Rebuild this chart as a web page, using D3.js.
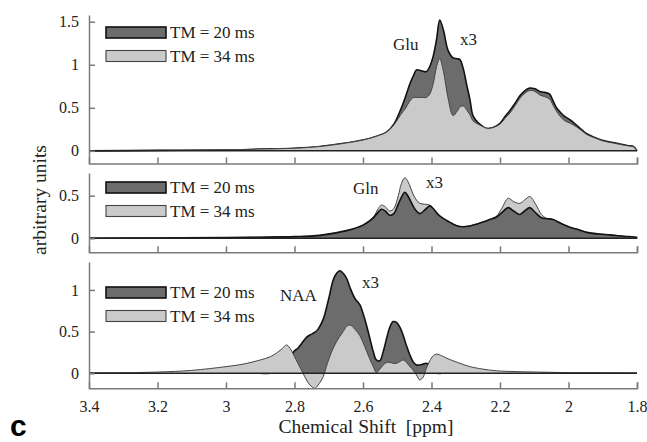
<!DOCTYPE html>
<html>
<head>
<meta charset="utf-8">
<script src="https://cdn.jsdelivr.net/npm/d3@7"></script>
<style>
  body { margin: 0; background: #fff; }
  svg text { font-family: "Liberation Serif", "Times New Roman", serif; fill: #222; }
  .axis path, .axis line { stroke: #7a7a7a; stroke-width: 1.5; }
</style>
</head>
<body>
<svg id="chart" width="647" height="442"></svg>
<script>
// x axis ticks (ppm)
var xTicks = [3.4, 3.2, 3, 2.8, 2.6, 2.4, 2.2, 2, 1.8];
var legendLabels = ['TM = 20 ms', 'TM = 34 ms'];

// --- Glu panel ---
var gluPpm  = [3.4, 3.2, 3.0, 2.9, 2.8, 2.726, 2.65, 2.6, 2.56, 2.53, 2.51, 2.49, 2.475, 2.463, 2.452, 2.444, 2.43, 2.415, 2.405, 2.395, 2.385, 2.376, 2.365, 2.352, 2.337, 2.325, 2.317, 2.307, 2.298, 2.288, 2.279, 2.269, 2.259, 2.245, 2.235, 2.22, 2.2, 2.185, 2.171, 2.155, 2.142, 2.127, 2.113, 2.098, 2.084, 2.07, 2.055, 2.045, 2.035, 2.022, 2.011, 1.995, 1.977, 1.96, 1.947, 1.92, 1.899, 1.875, 1.85, 1.825, 1.811, 1.8];
var gluTm20 = [0, 0.005, 0.01, 0.02, 0.03, 0.05, 0.09, 0.125, 0.17, 0.22, 0.31, 0.48, 0.64, 0.78, 0.88, 0.94, 0.93, 0.92, 0.98, 1.1, 1.3, 1.52, 1.4, 1.17, 1.08, 1.07, 1.06, 0.95, 0.78, 0.6, 0.41, 0.35, 0.31, 0.27, 0.26, 0.27, 0.32, 0.4, 0.47, 0.56, 0.64, 0.7, 0.73, 0.72, 0.69, 0.68, 0.66, 0.58, 0.5, 0.44, 0.4, 0.36, 0.3, 0.24, 0.2, 0.15, 0.12, 0.1, 0.08, 0.06, 0.05, 0];
var gluTm34 = [0, 0.005, 0.01, 0.02, 0.03, 0.05, 0.09, 0.125, 0.17, 0.22, 0.3, 0.42, 0.5, 0.58, 0.62, 0.62, 0.62, 0.62, 0.66, 0.78, 0.98, 1.07, 0.92, 0.62, 0.41, 0.46, 0.51, 0.52, 0.48, 0.42, 0.35, 0.32, 0.3, 0.27, 0.26, 0.27, 0.31, 0.38, 0.44, 0.53, 0.61, 0.67, 0.7, 0.69, 0.65, 0.63, 0.6, 0.53, 0.46, 0.39, 0.35, 0.32, 0.28, 0.23, 0.19, 0.145, 0.115, 0.095, 0.075, 0.057, 0.048, 0];

// --- Gln panel ---
var glnPpm  = [3.4, 3.2, 3.0, 2.9, 2.8, 2.726, 2.648, 2.6, 2.57, 2.555, 2.546, 2.535, 2.522, 2.51, 2.497, 2.488, 2.478, 2.468, 2.454, 2.444, 2.434, 2.42, 2.405, 2.395, 2.381, 2.365, 2.347, 2.328, 2.308, 2.288, 2.269, 2.25, 2.23, 2.21, 2.195, 2.176, 2.16, 2.142, 2.128, 2.113, 2.096, 2.079, 2.062, 2.045, 2.02, 1.996, 1.97, 1.947, 1.91, 1.879, 1.84, 1.802, 1.8];
var glnTm20 = [0, 0.004, 0.008, 0.013, 0.02, 0.035, 0.09, 0.155, 0.24, 0.31, 0.34, 0.32, 0.27, 0.29, 0.4, 0.48, 0.54, 0.49, 0.38, 0.32, 0.29, 0.33, 0.38, 0.35, 0.28, 0.23, 0.19, 0.15, 0.135, 0.145, 0.165, 0.19, 0.22, 0.25, 0.3, 0.36, 0.32, 0.28, 0.32, 0.36, 0.3, 0.24, 0.23, 0.22, 0.17, 0.13, 0.1, 0.07, 0.05, 0.04, 0.025, 0.012, 0];
var glnTm34 = [0, 0.004, 0.008, 0.013, 0.02, 0.035, 0.09, 0.155, 0.25, 0.35, 0.39, 0.37, 0.32, 0.35, 0.5, 0.64, 0.71, 0.66, 0.52, 0.45, 0.41, 0.4, 0.39, 0.35, 0.28, 0.23, 0.19, 0.15, 0.135, 0.145, 0.165, 0.19, 0.22, 0.26, 0.35, 0.47, 0.43, 0.41, 0.45, 0.49, 0.4, 0.28, 0.23, 0.22, 0.17, 0.13, 0.1, 0.07, 0.05, 0.04, 0.025, 0.012, 0];

// --- NAA panel ---
var naaPpm  = [3.4, 3.2, 3.1, 3.0, 2.95, 2.9, 2.87, 2.85, 2.835, 2.823, 2.81, 2.8, 2.79, 2.775, 2.765, 2.755, 2.741, 2.731, 2.716, 2.707, 2.697, 2.687, 2.677, 2.668, 2.658, 2.648, 2.638, 2.624, 2.609, 2.6, 2.59, 2.58, 2.57, 2.561, 2.551, 2.541, 2.531, 2.522, 2.512, 2.502, 2.492, 2.483, 2.473, 2.463, 2.454, 2.444, 2.434, 2.425, 2.415, 2.405, 2.395, 2.385, 2.37, 2.355, 2.337, 2.31, 2.288, 2.25, 2.21, 2.15, 2.093, 2.0, 1.9, 1.8];
var naaTm20 = [0, 0, 0, 0, 0, 0, 0, 0.01, 0.03, 0.08, 0.2, 0.27, 0.3, 0.38, 0.43, 0.46, 0.49, 0.53, 0.65, 0.78, 0.95, 1.12, 1.2, 1.23, 1.2, 1.14, 1.03, 0.9, 0.82, 0.72, 0.58, 0.42, 0.26, 0.16, 0.15, 0.26, 0.42, 0.55, 0.62, 0.61, 0.55, 0.46, 0.33, 0.22, 0.14, 0.1, 0.1, 0.11, 0.12, 0.08, 0.02, 0, 0, 0, 0, 0, 0, 0, 0, 0, 0, 0, 0, 0];
var naaTm34 = [0, 0.015, 0.035, 0.08, 0.11, 0.16, 0.2, 0.25, 0.3, 0.34, 0.28, 0.2, 0.12, 0, -0.08, -0.14, -0.18, -0.14, -0.04, 0.08, 0.2, 0.3, 0.38, 0.44, 0.5, 0.56, 0.58, 0.53, 0.45, 0.37, 0.27, 0.17, 0.08, 0.01, 0.05, 0.1, 0.13, 0.13, 0.12, 0.12, 0.14, 0.16, 0.13, 0.08, 0.04, -0.02, -0.08, -0.05, 0.06, 0.15, 0.21, 0.23, 0.21, 0.18, 0.15, 0.11, 0.08, 0.05, 0.03, 0.02, 0.015, 0.008, 0.004, 0];

var SERIF = '"Liberation Serif", "Times New Roman", serif';

var svg = d3.select('#chart');

var x = d3.scaleLinear().domain([3.4, 1.8]).range([89, 637]);

var panels = [
  { ppm: gluPpm, tm20: gluTm20, tm34: gluTm34, name: 'Glu', top: 15, bottom: 163.5,
    domain: [-0.147, 1.578], yTicks: [0, 0.5, 1, 1.5], lightOnTop: true,
    legendY: 27, nameX: 393, nameY: 50, x3X: 460, x3Y: 45 },
  { ppm: glnPpm, tm20: glnTm20, tm34: glnTm34, name: 'Gln', top: 173, bottom: 252.3,
    domain: [-0.164, 0.766], yTicks: [0, 0.5], lightOnTop: false,
    legendY: 182, nameX: 353, nameY: 194, x3X: 426, x3Y: 188 },
  { ppm: naaPpm, tm20: naaTm20, tm34: naaTm34, name: 'NAA', top: 262, bottom: 388.3,
    domain: [-0.18, 1.335], yTicks: [0, 0.5, 1], lightOnTop: true,
    legendY: 287, nameX: 280, nameY: 301, x3X: 362, x3Y: 288 }
];

function styleAxisText(sel) {
  sel.selectAll('text')
    .attr('font-family', SERIF)
    .style('font-family', SERIF)
    .style('font-size', '16px')
    .style('fill', '#222');
}

panels.forEach(function(p, i) {
  var g = svg.append('g').attr('class', 'panel');
  var y = d3.scaleLinear().domain(p.domain).range([p.bottom, p.top]);

  var area = d3.area()
    .x(function(d) { return x(d[0]); })
    .y0(y(0))
    .y1(function(d) { return y(d[1]); })
    .curve(d3.curveCatmullRom.alpha(0.5));

  var line = d3.line()
    .x(function(d) { return x(d[0]); })
    .y(function(d) { return y(d[1]); })
    .curve(d3.curveCatmullRom.alpha(0.5));

  var dark = p.ppm.map(function(v, j) { return [v, p.tm20[j]]; });
  var light = p.ppm.map(function(v, j) { return [v, p.tm34[j]]; });

  var series = [
    { data: dark, fill: '#6c6c6c', stroke: '#111', width: 1.6 },
    { data: light, fill: '#cacaca', stroke: '#444', width: 1 }
  ];
  if (!p.lightOnTop) series.reverse();

  series.forEach(function(s) {
    g.append('path').datum(s.data).attr('d', area).attr('fill', s.fill);
    g.append('path').datum(s.data).attr('d', line)
      .attr('fill', 'none').attr('stroke', s.stroke).attr('stroke-width', s.width);
  });

  // zero line
  g.append('line')
    .attr('x1', x(3.4)).attr('x2', x(1.8))
    .attr('y1', y(0)).attr('y2', y(0))
    .attr('stroke', '#222').attr('stroke-width', 1.5);

  // axes
  var xAxis = d3.axisBottom(x).tickValues(xTicks).tickSize(-6).tickSizeOuter(-6)
    .tickPadding(12).tickFormat(function(d) { return String(d); });
  var gx = g.append('g').attr('class', 'axis')
    .attr('transform', 'translate(0,' + p.bottom + ')').call(xAxis);
  if (i < 2) gx.selectAll('text').remove();
  gx.selectAll('.tick').filter(function(d) { return d === 3.4; }).select('line').remove();
  styleAxisText(gx);

  var yAxis = d3.axisLeft(y).tickValues(p.yTicks).tickSize(-6).tickSizeOuter(0)
    .tickPadding(10).tickFormat(function(d) { return String(d); });
  var gy = g.append('g').attr('class', 'axis')
    .attr('transform', 'translate(' + x(3.4) + ',0)').call(yAxis);
  styleAxisText(gy);

  // legend
  legendLabels.forEach(function(lbl, k) {
    var ly = p.legendY + k * 23.5;
    g.append('rect')
      .attr('x', 106).attr('y', ly).attr('width', 60).attr('height', 11)
      .attr('fill', k === 0 ? '#6c6c6c' : '#cacaca')
      .attr('stroke', k === 0 ? '#111' : '#444')
      .attr('stroke-width', k === 0 ? 1.6 : 1.1);
    g.append('text')
      .attr('x', 170).attr('y', ly + 11)
      .style('font-family', SERIF)
      .style('font-size', '17px')
      .text(lbl);
  });

  g.append('text').attr('x', p.nameX).attr('y', p.nameY)
    .style('font-family', SERIF).style('font-size', '17px').text(p.name);
  g.append('text').attr('x', p.x3X).attr('y', p.x3Y)
    .style('font-family', SERIF).style('font-size', '17px').text('x3');
});

svg.append('text')
  .attr('x', 366).attr('y', 433)
  .attr('text-anchor', 'middle')
  .style('font-family', SERIF)
  .style('font-size', '19.5px')
  .text('Chemical Shift\u00a0 [ppm]');

svg.append('text')
  .attr('transform', 'translate(46,200) rotate(-90)')
  .attr('text-anchor', 'middle')
  .style('font-family', SERIF)
  .style('font-size', '19.5px')
  .text('arbitrary units');

svg.append('text')
  .attr('x', 10).attr('y', 436)
  .style('font-family', '"Liberation Sans", Arial, sans-serif')
  .style('font-weight', 'bold')
  .style('font-size', '30px')
  .style('fill', '#000')
  .text('c');
</script>
</body>
</html>
